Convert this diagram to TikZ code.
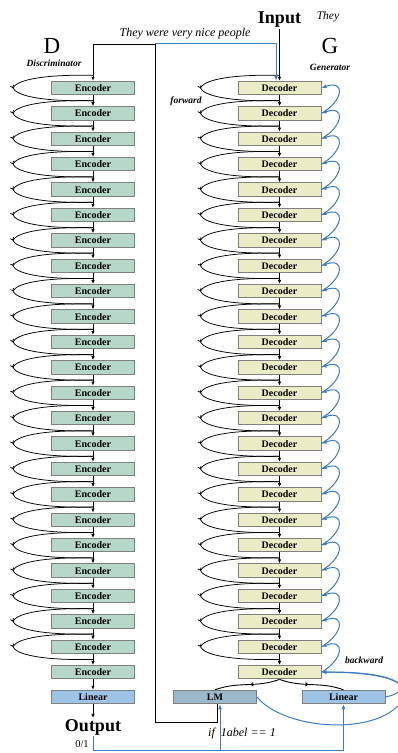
\documentclass[tikz,border=0pt]{standalone}
\usepackage{fontspec}
\setmainfont{Liberation Serif}
\usetikzlibrary{arrows.meta,decorations.markings}

\definecolor{encgreen}{HTML}{B6D7C7}
\definecolor{decyellow}{HTML}{EBEBC5}
\definecolor{linblue}{HTML}{9DC3E6}
\definecolor{lmgray}{HTML}{9CB9CB}
\definecolor{boxgray}{HTML}{808080}
\definecolor{lineblue}{HTML}{3A7CC4}

\tikzset{
  box/.style={draw=boxgray, line width=0.9pt, minimum width=83pt, minimum height=13.5pt,
    inner sep=0pt, font=\bfseries\fontsize{10}{10}\selectfont},
  encbox/.style={box, fill=encgreen},
  decbox/.style={box, fill=decyellow},
  linbox/.style={box, fill=linblue},
  lmbox/.style={box, fill=lmgray},
  arr/.style={-{Latex[length=4pt,width=3.5pt]}, line width=0.8pt},
  bluearr/.style={-{Latex[length=5pt,width=4pt]}, line width=1pt, draw=lineblue},
  blueline/.style={line width=1pt, draw=lineblue},
  skip/.style={line width=0.75pt, postaction={decorate},
    decoration={markings, mark=at position 0.5 with {\arrow{Straight Barb[length=2pt,width=3.5pt]}}}},
  split/.style={line width=0.9pt, postaction={decorate},
    decoration={markings, mark=at position 0.45 with {\arrow{Straight Barb[length=2pt,width=3.5pt]}}}},
  tag/.style={font=\bfseries\itshape\fontsize{9.5}{10}\selectfont},
  big/.style={font=\bfseries\fontsize{18}{18}\selectfont, inner sep=1pt}
}

\begin{document}
\begin{tikzpicture}[x=1pt,y=1pt]
\useasboundingbox (0,0) rectangle (398,753);

% stacks
\foreach \i in {1,...,24}{
  \pgfmathsetmacro{\yy}{665-25.4*(\i-1)}
  \node[encbox] (e\i) at (93,\yy) {Encoder};
  \node[decbox] (d\i) at (279.5,\yy) {Decoder};
}
\foreach \i [evaluate=\i as \j using int(\i+1)] in {1,...,23}{
  \draw[arr] (e\i) -- (e\j);
  \draw[arr] (d\i) -- (d\j);
  \draw[skip] ([yshift=12.7pt]e\i.center) .. controls +(-55,1) and +(3,7) .. ([xshift=-80pt]e\i.center)
    .. controls +(3,-7) and +(-55,-1) .. ([yshift=-12.7pt]e\i.center);
  \draw[skip] ([yshift=12.7pt]d\i.center) .. controls +(-55,1) and +(3,7) .. ([xshift=-79pt]d\i.center)
    .. controls +(3,-7) and +(-55,-1) .. ([yshift=-12.7pt]d\i.center);
  \draw[bluearr] (d\j.east) to[out=30,in=20,looseness=2.6] (d\i.east);
}

% heads
\node[linbox] (lin1) at (93,56) {Linear};
\node[lmbox] (lm) at (215,56) {LM};
\node[linbox] (lin2) at (343.5,56) {Linear};
\draw[arr] (e24) -- (lin1);
\node[big] (output) at (93,26) {Output};
\draw[arr] (lin1) -- (output);
\draw[split] (d24.south) to[out=200,in=20] (lm.north);
\draw[split] (d24.south) to[out=-20,in=160] (lin2.north);

% labels
\node[big] (input) at (279.5,733) {Input};
\node[font=\itshape\fontsize{11.5}{12}\selectfont] (they) at (328,736) {They};
\node[font=\fontsize{23}{23}\selectfont] (dlbl) at (52,707) {D};
\node[font=\fontsize{23}{23}\selectfont] (glbl) at (330,707) {G};
\node[tag] (disc) at (54,690) {Discriminator};
\node[tag] (gen) at (330,686) {Generator};
\node[tag] (fwd) at (186,652) {forward};
\node[tag] (bwd) at (364,93) {backward};
\node[font=\itshape\fontsize{12}{12}\selectfont] (sent) at (185,719) {They were very nice people};
\node[font=\itshape\fontsize{12}{12}\selectfont] (cond) at (242,19) {if~~1abel == 1};
\node[font=\fontsize{10.5}{11}\selectfont] (prob) at (82,9) {0/1};

% generated sentence back to D, and the input
\coordinate (split) at (155,709);
\coordinate (lmdown) at (155,31);
\draw[arr] ([xshift=2pt]lm.south) |- (lmdown) -- (split) -| (e1.north);
\draw[bluearr] (split) -| ([xshift=-3.5pt]d1.north);
\draw[arr] (input) -- (d1);

% label feedback
\coordinate (bline) at (0,2);
\coordinate (lmin) at ([xshift=5pt]lm.south);
\draw[bluearr] (output.south) |- (bline -| lin2.south) -- (lin2.south);
\draw[bluearr] (bline -| lmin) -- (lmin);
\draw[bluearr] (lm.east) .. controls (285,22) and (382,16) .. (404,55) .. controls (412,75) and (370,81) .. (d24.east);
\draw[bluearr] (lin2.east) .. controls (415,62) and (405,82) .. (d24.east);
\end{tikzpicture}
\end{document}
